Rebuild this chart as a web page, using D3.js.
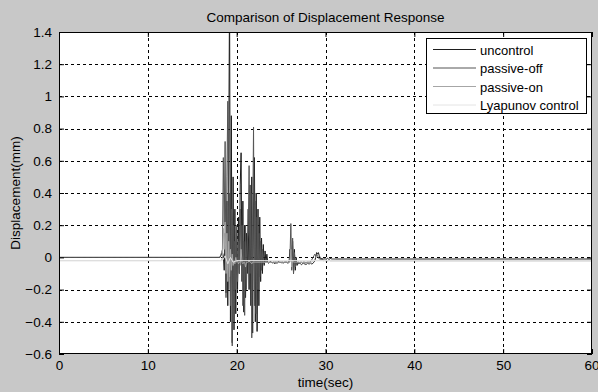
<!DOCTYPE html>
<html>
<head>
<meta charset="utf-8">
<script src="https://cdn.jsdelivr.net/npm/d3@7/dist/d3.min.js"></script>
<style>
  body { margin: 0; background: #c8c8c8; }
  svg { display: block; font-family: "Liberation Sans", Arial, sans-serif; }
</style>
</head>
<body>
<svg id="svg" width="598" height="392"></svg>
<script>
const w = 598;
const h = 392;
const margin = { left: 59, right: 6, top: 32, bottom: 38 };

const xTicks = [0, 10, 20, 30, 40, 50, 60];
const yTicks = [-0.6, -0.4, -0.2, 0, 0.2, 0.4, 0.6, 0.8, 1, 1.2, 1.4];

const seriesNames = ["uncontrol", "passive-off", "passive-on", "Lyapunov control"];
const seriesColors = ["#1e1e1e", "#555555", "#a6a6a6", "#e4e4e4"];

// dense part of the record, sampled every 0.1 s starting at 18.0 s
const denseStart = 18.0;
const denseStep = 0.1;

const uncontrolDense = [
  0, 0, 0.01, 0.02, 0.03, 0.01, -0.08, 0.15, -0.22, 0.35,
  -0.3, 0.6, 1.65, -0.4, 0.88, -0.53, 0.5, -0.45, 0.3, -0.35,
  0.15, -0.2, 0.25, -0.1, 0.45, 0.65, -0.15, 0.35, -0.34, 0.2,
  -0.25, 0.15, -0.1, 0.3, -0.2, 0.45, -0.3, 0.5, -0.47, 0.35,
  0.62, -0.4, 0.4, -0.46, 0.3, -0.3, 0.25, -0.15, 0.12, -0.1,
  0.08, -0.05, 0.04, -0.03, 0.02, -0.03, -0.035, -0.03, -0.025, -0.03,
  -0.035, -0.03, -0.03, -0.04, -0.03, -0.035, -0.03, -0.025, -0.03, -0.03,
  -0.035, -0.03, -0.03, -0.035, -0.03, -0.03, -0.03, -0.035, -0.03, -0.03,
  0.05, 0.02, -0.05, 0.1, -0.1, 0.05, -0.08, 0.0, -0.05, -0.03,
  -0.04, -0.035, -0.04, -0.045, -0.04, -0.035, -0.04, -0.04, -0.045, -0.04,
  -0.035, -0.04, -0.04, -0.035, -0.04, -0.04, -0.035, -0.03, -0.02, 0.0,
  0.03, 0.02, 0.03, 0.01, 0.0, -0.01, -0.005, -0.01, -0.01, -0.005,
  -0.01, -0.01, -0.005, -0.01, -0.01, -0.01, -0.005, -0.01, -0.01, -0.01,
  -0.01
];

const passiveOffDense = [
  0, 0, 0.01, 0.03, 0.05, 0.62, 0.2, 0.72, -0.25, 0.5,
  0.97, -0.2, 0.4, -0.3, 0.3, -0.55, 0.2, -0.3, 0.1, -0.2,
  0.2, -0.15, 0.1, -0.1, 0.3, -0.05, 0.2, -0.3, 0.1, -0.36,
  0.2, -0.2, 0.1, 0.15, 0.57, -0.1, 0.4, -0.5, 0.2, 0.81,
  -0.3, 0.35, -0.35, 0.25, -0.2, 0.15, -0.12, 0.1, -0.08, 0.05,
  -0.04, -0.03, -0.03, -0.025, -0.03, -0.03, -0.035, -0.03, -0.03, -0.03,
  -0.03, -0.035, -0.03, -0.03, -0.03, -0.03, -0.035, -0.03, -0.03, -0.03,
  -0.03, -0.03, -0.035, -0.03, -0.03, -0.03, -0.03, -0.03, -0.035, -0.03,
  0.0, 0.21, -0.08, 0.12, -0.1, 0.03, -0.06, -0.02, -0.04, -0.03,
  -0.03, -0.035, -0.03, -0.03, -0.035, -0.03, -0.03, -0.03, -0.035, -0.03,
  -0.03, -0.03, -0.03, -0.025, -0.02, -0.01, 0.0, 0.01, 0.02, 0.01,
  0.02, 0.01, 0.0, -0.01, -0.01, -0.015, -0.01, -0.015, -0.02, -0.015,
  -0.02, -0.015, -0.02, -0.02, -0.015, -0.02, -0.02, -0.02, -0.02, -0.02,
  -0.02
];

const passiveOnDense = [
  -0.02, -0.02, -0.02, -0.02, 0.0, 0.18, 0.05, 0.22, -0.1, 0.15,
  -0.15, 0.1, -0.12, 0.05, -0.08, 0.02, -0.05, -0.02, -0.04, 0.0,
  -0.03, -0.02, -0.04, -0.03, -0.03, 0.05, -0.03, -0.04, -0.03, -0.03,
  -0.06, -0.03, -0.03, -0.03, -0.02, -0.03, -0.03, -0.04, -0.03, -0.03,
  -0.03, -0.03, -0.03, -0.03, -0.03, -0.03, -0.03, -0.03, -0.03, -0.03,
  -0.03, -0.03, -0.03, -0.03, -0.03, -0.03, -0.03, -0.03, -0.03, -0.03,
  -0.03, -0.03, -0.03, -0.03, -0.03, -0.03, -0.03, -0.03, -0.03, -0.03,
  -0.03, -0.03, -0.03, -0.03, -0.03, -0.03, -0.03, -0.03, -0.03, -0.03,
  -0.03, 0.05, -0.06, -0.02, -0.03, -0.03, -0.03, -0.03, -0.03, -0.03,
  -0.03, -0.03, -0.03, -0.03, -0.03, -0.03, -0.03, -0.03, -0.03, -0.03,
  -0.03, -0.03, -0.03, -0.03, -0.03, -0.025, -0.02, -0.02, -0.02, -0.02,
  -0.02, -0.02, -0.02, -0.02, -0.02, -0.02, -0.02, -0.02, -0.02, -0.02,
  -0.02, -0.02, -0.02, -0.02, -0.02, -0.02, -0.02, -0.02, -0.02, -0.02,
  -0.02
];

// quiet parts before and after the dense record: [time, value]
const uncontrolQuiet = { before: [[0, 0], [17.9, 0]], after: [[31.1, -0.01], [60, -0.01]] };
const passiveOffQuiet = { before: [[0, 0], [17.9, 0]], after: [[31.1, -0.02], [60, -0.02]] };
const passiveOnQuiet = { before: [[0, -0.02], [17.9, -0.02]], after: [[31.1, -0.02], [60, -0.02]] };

const lyapunovPoints = [
  [0, -0.02], [18.4, -0.02], [18.7, 0.01], [19.0, -0.04], [19.3, 0.0],
  [19.6, -0.03], [20.0, -0.02], [60, -0.02]
];

function buildSeries(quiet, dense) {
  const pts = quiet.before.slice();
  dense.forEach((v, i) => pts.push([denseStart + i * denseStep, v]));
  return pts.concat(quiet.after);
}

const allSeries = [
  buildSeries(uncontrolQuiet, uncontrolDense),
  buildSeries(passiveOffQuiet, passiveOffDense),
  buildSeries(passiveOnQuiet, passiveOnDense),
  lyapunovPoints
];

const font = '"Liberation Sans", Arial, sans-serif';

let svg = d3.select("#svg");

let xScale = d3.scaleLinear([0, 60], [margin.left, w - margin.right]);
let yScale = d3.scaleLinear([-0.6, 1.4], [h - margin.bottom, margin.top]);

const pw = w - margin.left - margin.right;
const ph = h - margin.top - margin.bottom;

svg.append("rect").attr("width", w).attr("height", h).attr("fill", "#c8c8c8");

svg.append("clipPath")
  .attr("id", "chart-area")
  .append("rect")
  .attr("x", margin.left)
  .attr("y", margin.top)
  .attr("width", pw)
  .attr("height", ph);

svg.append("rect")
  .attr("x", margin.left)
  .attr("y", margin.top)
  .attr("width", pw)
  .attr("height", ph)
  .attr("fill", "#ffffff");

// grid
const grid = svg.append("g").attr("stroke", "#000").attr("stroke-width", 1).attr("stroke-dasharray", "3,3");
grid.selectAll(".gx")
  .data(xTicks.slice(1, -1))
  .join("line")
  .attr("x1", (d) => Math.round(xScale(d)) + 0.5)
  .attr("x2", (d) => Math.round(xScale(d)) + 0.5)
  .attr("y1", margin.top)
  .attr("y2", h - margin.bottom);
grid.selectAll(".gy")
  .data(yTicks.slice(1, -1))
  .join("line")
  .attr("x1", margin.left)
  .attr("x2", w - margin.right)
  .attr("y1", (d) => Math.round(yScale(d)) + 0.5)
  .attr("y2", (d) => Math.round(yScale(d)) + 0.5);

// data lines
let lineFunc = d3.line()
  .x((d) => xScale(d[0]))
  .y((d) => yScale(d[1]));

svg.append("g")
  .attr("clip-path", "url(#chart-area)")
  .selectAll("path")
  .data(allSeries)
  .join("path")
  .attr("fill", "none")
  .attr("stroke", (d, i) => seriesColors[i])
  .attr("stroke-width", 1)
  .attr("d", lineFunc);

// axes, ticks inward like MATLAB
const tickLen = 5;
const xAxisB = d3.axisBottom(xScale).tickValues(xTicks).tickSize(-tickLen).tickPadding(6).tickFormat(d3.format("d"));
const xAxisT = d3.axisTop(xScale).tickValues(xTicks).tickSize(-tickLen).tickFormat("");
const yAxisL = d3.axisLeft(yScale).tickValues(yTicks).tickSize(-tickLen).tickPadding(7).tickFormat((d) => d3.format("")(+d.toFixed(1)));
const yAxisR = d3.axisRight(yScale).tickValues(yTicks).tickSize(-tickLen).tickFormat("");

function styleAxis(g) {
  g.select(".domain").remove();
  g.selectAll("line").attr("stroke", "#000");
  g.selectAll("text").attr("fill", "#000").style("font-size", "13.5px").style("font-family", font);
}

svg.append("g").attr("transform", `translate(0,${h - margin.bottom})`).call(xAxisB).call(styleAxis)
  .selectAll(".tick text")
  .filter((d) => d === 60)
  .attr("text-anchor", "end")
  .attr("dx", "7");
svg.append("g").attr("transform", `translate(0,${margin.top})`).call(xAxisT).call(styleAxis);
svg.append("g").attr("transform", `translate(${margin.left},0)`).call(yAxisL).call(styleAxis);
svg.append("g").attr("transform", `translate(${w - margin.right},0)`).call(yAxisR).call(styleAxis);

svg.append("rect")
  .attr("x", margin.left + 0.5)
  .attr("y", margin.top + 0.5)
  .attr("width", pw - 1)
  .attr("height", ph - 1)
  .attr("fill", "none")
  .attr("stroke", "#000");

// title and labels
svg.append("text")
  .attr("x", margin.left + pw / 2)
  .attr("y", 21.5)
  .attr("text-anchor", "middle")
  .style("font-size", "13.5px")
  .text("Comparison of Displacement Response");

svg.append("text")
  .attr("x", margin.left + pw / 2)
  .attr("y", 387)
  .attr("text-anchor", "middle")
  .style("font-size", "13.5px")
  .text("time(sec)");

svg.append("text")
  .attr("transform", `translate(20,${margin.top + ph / 2}) rotate(-90)`)
  .attr("text-anchor", "middle")
  .style("font-size", "13.5px")
  .text("Displacement(mm)");

// legend
const legend = svg.append("g").attr("transform", "translate(426,38)");
legend.append("rect")
  .attr("x", 0.5)
  .attr("y", 0.5)
  .attr("width", 160)
  .attr("height", 75)
  .attr("fill", "#fff")
  .attr("stroke", "#000");

const items = legend.selectAll(".item")
  .data(seriesNames)
  .join("g")
  .attr("transform", (d, i) => `translate(0,${11.5 + i * 18.5})`);
items.append("line")
  .attr("x1", 7)
  .attr("x2", 50)
  .attr("y1", 0)
  .attr("y2", 0)
  .attr("stroke", (d, i) => seriesColors[i]);
items.append("text")
  .attr("x", 54)
  .attr("y", 5)
  .style("font-size", "13px")
  .text((d) => d);
</script>
</body>
</html>
